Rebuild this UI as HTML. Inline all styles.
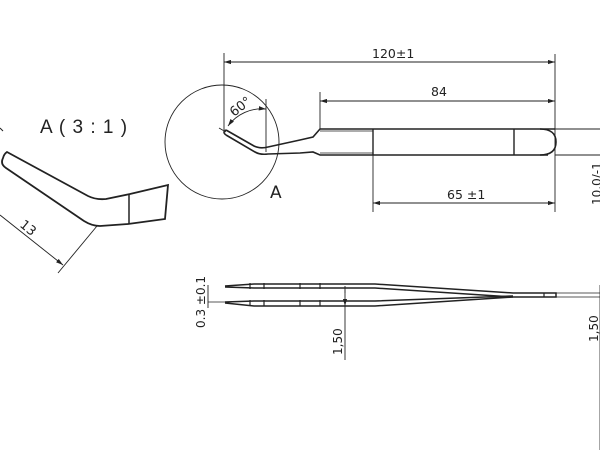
<!DOCTYPE html>
<html><head><style>html,body{margin:0;padding:0;background:#fff;}svg{display:block}</style></head>
<body>
<svg width="600" height="450" viewBox="0 0 600 450" xmlns="http://www.w3.org/2000/svg" font-family="'DejaVu Sans','Liberation Sans',sans-serif" fill="none" stroke="#222">
<defs>
<marker id="a" viewBox="0 0 10 6" refX="10" refY="3" markerWidth="8" markerHeight="5" orient="auto-start-reverse"><path d="M0,0 L10,3 L0,6 z" fill="#222" stroke="none"/></marker>
</defs>
<!-- Detail A -->
<text x="40" y="133" font-family="'Liberation Sans',sans-serif" font-size="19" letter-spacing="1" fill="#222" stroke="none">A ( 3 : 1 )</text>
<line x1="0" y1="128" x2="3" y2="131" stroke-width="1"/>
<path d="M7,152 L88,196 Q96,200 106,199 L130,194 L168,185 L165,219 L128,224 L100,226 Q92,226 84,221 L6,168 Q0,164 3,158 Q4,154 7,152 Z" stroke-width="1.8"/>
<line x1="129" y1="194" x2="129" y2="224" stroke-width="1.5"/>
<line x1="0" y1="215" x2="63" y2="265" stroke-width="0.9" marker-end="url(#a)"/>
<line x1="97" y1="226" x2="58" y2="273" stroke-width="0.9"/>
<text x="0" y="0" font-size="13" fill="#222" stroke="none" transform="translate(19,226) rotate(39)">13</text>
<!-- circle -->
<circle cx="222" cy="142" r="57" stroke-width="0.9"/>
<text x="270" y="198" font-size="17" fill="#222" stroke="none">A</text>
<!-- top view tweezers -->
<path d="M226,130 L254,146 Q260,149 268,147 L300,140 L313,137 L320,129 L555,129" stroke-width="1.6"/>
<path d="M226,135 L255,152 Q260,155 268,154 L300,153 L313,152 L320,155 L548,155" stroke-width="1.6"/>
<path d="M226,130 Q222,132 226,135" stroke-width="1.6"/>
<path d="M540,129 Q556,129 556,142 Q556,155 540,155" stroke-width="1.6"/>
<line x1="373" y1="129" x2="373" y2="155" stroke-width="1.4"/>
<line x1="514" y1="129" x2="514" y2="155" stroke-width="1.4"/>
<path d="M320,131 L373,131 M320,153 L373,153" stroke-width="0.8"/>
<!-- 60 deg -->
<line x1="224" y1="53" x2="224" y2="130" stroke-width="0.9"/>
<line x1="266" y1="99" x2="266" y2="152" stroke-width="0.9"/>
<path d="M228,126 A42,42 0 0 1 266,109" stroke-width="0.9" marker-start="url(#a)" marker-end="url(#a)"/>
<line x1="219" y1="128" x2="226" y2="132" stroke-width="0.9"/>
<text x="0" y="0" font-size="13" fill="#222" stroke="none" transform="translate(234,117) rotate(-38)">60°</text>
<!-- dimensions top -->
<line x1="224" y1="62" x2="555" y2="62" stroke-width="0.9" marker-start="url(#a)" marker-end="url(#a)"/>
<text x="372" y="58" font-size="12.5" fill="#222" stroke="none">120±1</text>
<line x1="320" y1="92" x2="320" y2="129" stroke-width="0.9"/>
<line x1="555" y1="54" x2="555" y2="212" stroke-width="0.9"/>
<line x1="320" y1="101" x2="555" y2="101" stroke-width="0.9" marker-start="url(#a)" marker-end="url(#a)"/>
<text x="431" y="96" font-size="12.5" fill="#222" stroke="none">84</text>
<line x1="373" y1="155" x2="373" y2="212" stroke-width="0.9"/>
<line x1="373" y1="203" x2="555" y2="203" stroke-width="0.9" marker-start="url(#a)" marker-end="url(#a)"/>
<text x="447" y="199" font-size="12.5" fill="#222" stroke="none">65 ±1</text>
<line x1="555" y1="129" x2="600" y2="129" stroke-width="0.9"/>
<line x1="555" y1="155" x2="600" y2="155" stroke-width="0.9"/>
<text x="0" y="0" font-size="12" fill="#222" stroke="none" transform="translate(601,205) rotate(-90)">10,0/-1</text>
<!-- side view -->
<path d="M225,286 L254,284 L375,284 L513,293 L556,293 L556,297 L513,297 L375,288 L254,288 L225,287" stroke-width="1.5"/>
<path d="M225,302 L254,301 L375,301 L513,296 M513,297 L375,306 L254,306 L225,303" stroke-width="1.5"/>
<path d="M250,283 L250,289 M264,283 L264,289 M300,283 L300,289 M320,283 L320,289 M250,300 L250,306 M264,300 L264,306 M300,300 L300,306 M320,300 L320,306 M544,293 L544,297" stroke-width="1.2"/>
<path d="M556,293 L600,293 M556,297 L600,297 M600,285 L600,450" stroke-width="0.8"/>
<line x1="345" y1="290" x2="345" y2="360" stroke-width="0.9"/>
<path d="M345,293 L345,286 M345,300 L345,306" stroke-width="0.9" marker-end="url(#a)"/>
<text x="0" y="0" font-size="12" fill="#222" stroke="none" transform="translate(342,355) rotate(-90)">1,50</text>
<text x="0" y="0" font-size="12" fill="#222" stroke="none" transform="translate(598,342) rotate(-90)">1,50</text>
<line x1="208" y1="285" x2="208" y2="308" stroke-width="0.9"/>
<line x1="208" y1="302" x2="225" y2="302" stroke-width="0.8"/>
<text x="0" y="0" font-size="12" fill="#222" stroke="none" transform="translate(205,328) rotate(-90)">0.3 ±0.1</text>
</svg>
</body></html>
